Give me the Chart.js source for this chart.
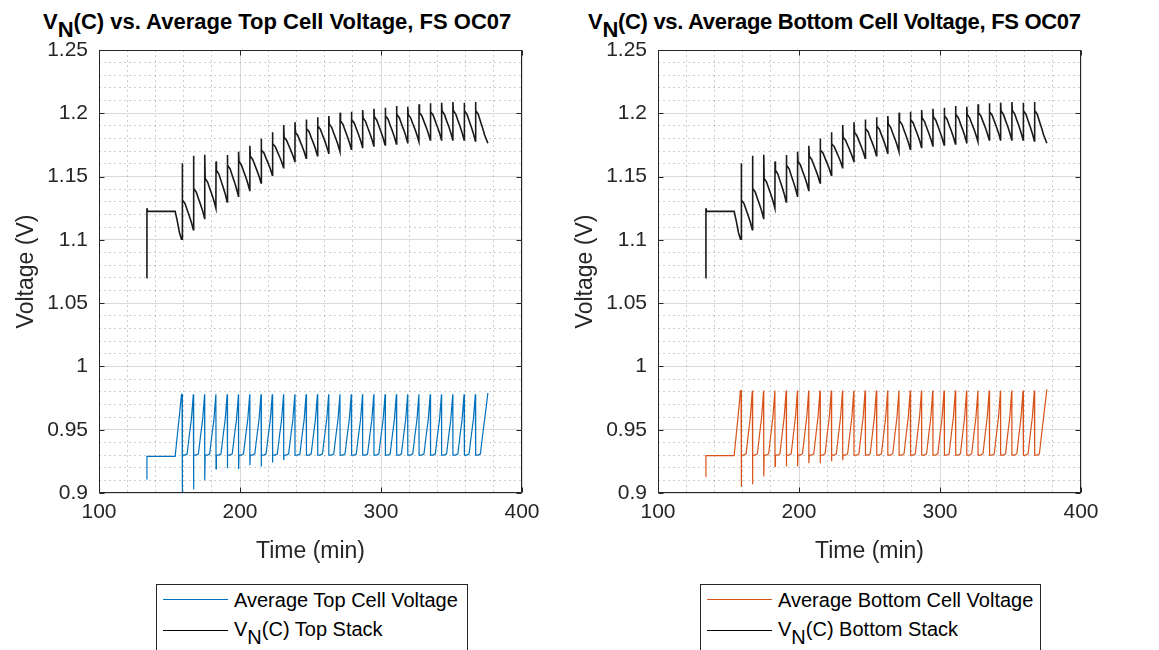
<!DOCTYPE html>
<html>
<head>
<meta charset="utf-8">
<script src="https://cdn.jsdelivr.net/npm/chart.js@4.4.1/dist/chart.umd.min.js"></script>
<style>
  html, body { margin: 0; padding: 0; background: #fff; }
  body { position: relative; width: 1159px; height: 650px; overflow: hidden;
         font-family: "Liberation Sans", Arial, Helvetica, sans-serif; color: #262626; }
  .title { position: absolute; top: 11px; font-size: 22px; line-height: 22px; font-weight: bold;
           color: #000; white-space: nowrap; }
  .sub { position: relative; top: 8px; }
  .panel { position: absolute; top: 0; width: 560px; height: 580px; }
  .legend { position: absolute; top: 584px; height: 80px; background: #fff;
            border: 1px solid #262626; box-sizing: border-box; }
  .legend .swatch { position: absolute; left: 6px; width: 65px; height: 0; border-top: 1px solid; }
  .legend .label { position: absolute; left: 77px; font-size: 20px; line-height: 20px;
                   color: #000; white-space: nowrap; }
</style>
</head>
<body>
<div class="title" style="left:43px">V<span class="sub">N</span>(C) vs. Average Top Cell Voltage, FS OC07</div>
<div class="title" style="left:588px;letter-spacing:-0.3px">V<span class="sub">N</span>(C) vs. Average Bottom Cell Voltage, FS OC07</div>

<div class="panel" style="left:0"><canvas id="chartTop" width="560" height="580"></canvas></div>
<div class="panel" style="left:559px"><canvas id="chartBottom" width="560" height="580"></canvas></div>

<div class="legend" style="left:156px;width:312px">
  <div class="swatch" style="top:14px;border-color:#0072BD"></div>
  <div class="label" style="top:5px">Average Top Cell Voltage</div>
  <div class="swatch" style="top:45px;border-color:#000"></div>
  <div class="label" style="top:34px">V<span class="sub">N</span>(C) Top Stack</div>
</div>
<div class="legend" style="left:700px;width:341px">
  <div class="swatch" style="top:14px;border-color:#D95319"></div>
  <div class="label" style="top:5px">Average Bottom Cell Voltage</div>
  <div class="swatch" style="top:45px;border-color:#000"></div>
  <div class="label" style="top:34px">V<span class="sub">N</span>(C) Bottom Stack</div>
</div>

<script>
// Elapsed test time (min); one row per 8-minute cycle after the initial hold
const timeMin = [
  133.8, 134.0, 134.4, 154.0, 155.5, 157.0, 158.5, 158.9,
  159, 159.3, 161, 162.5, 164, 165.5, 166.9,
  167, 167.3, 169, 170.5, 172, 173.5, 174.9,
  175, 175.3, 177, 178.5, 180, 181.5, 182.9,
  183, 183.3, 185, 186.5, 188, 189.5, 190.9,
  191, 191.3, 193, 194.5, 196, 197.5, 198.9,
  199, 199.3, 201, 202.5, 204, 205.5, 206.9,
  207, 207.3, 209, 210.5, 212, 213.5, 214.9,
  215, 215.3, 217, 218.5, 220, 221.5, 222.9,
  223, 223.3, 225, 226.5, 228, 229.5, 230.9,
  231, 231.3, 233, 234.5, 236, 237.5, 238.9,
  239, 239.3, 241, 242.5, 244, 245.5, 246.9,
  247, 247.3, 249, 250.5, 252, 253.5, 254.9,
  255, 255.3, 257, 258.5, 260, 261.5, 262.9,
  263, 263.3, 265, 266.5, 268, 269.5, 270.9,
  271, 271.3, 273, 274.5, 276, 277.5, 278.9,
  279, 279.3, 281, 282.5, 284, 285.5, 286.9,
  287, 287.3, 289, 290.5, 292, 293.5, 294.9,
  295, 295.3, 297, 298.5, 300, 301.5, 302.9,
  303, 303.3, 305, 306.5, 308, 309.5, 310.9,
  311, 311.3, 313, 314.5, 316, 317.5, 318.9,
  319, 319.3, 321, 322.5, 324, 325.5, 326.9,
  327, 327.3, 329, 330.5, 332, 333.5, 334.9,
  335, 335.3, 337, 338.5, 340, 341.5, 342.9,
  343, 343.3, 345, 346.5, 348, 349.5, 350.9,
  351, 351.3, 353, 354.5, 356, 357.5, 358.9,
  359, 359.3, 361, 362.5, 364, 365.5, 366.9,
  367, 367.3, 369, 370.5, 372, 373.5, 375.8
];

// Average top-stack cell voltage (V)
const cellTop = [
  0.911, 0.929, 0.929, 0.929, 0.945, 0.961, 0.978, 0.978,
  0.895, 0.930, 0.930, 0.931, 0.945, 0.958, 0.978,
  0.903, 0.930, 0.930, 0.931, 0.945, 0.958, 0.978,
  0.910, 0.930, 0.930, 0.931, 0.945, 0.958, 0.978,
  0.919, 0.930, 0.930, 0.931, 0.945, 0.958, 0.978,
  0.9195, 0.930, 0.930, 0.931, 0.945, 0.958, 0.978,
  0.919, 0.930, 0.930, 0.931, 0.945, 0.958, 0.978,
  0.922, 0.930, 0.930, 0.931, 0.945, 0.958, 0.978,
  0.921, 0.930, 0.930, 0.931, 0.945, 0.958, 0.978,
  0.924, 0.930, 0.930, 0.931, 0.945, 0.958, 0.978,
  0.926, 0.930, 0.930, 0.931, 0.945, 0.958, 0.978,
  0.930, 0.930, 0.930, 0.931, 0.945, 0.958, 0.978,
  0.930, 0.930, 0.930, 0.931, 0.945, 0.958, 0.978,
  0.930, 0.930, 0.930, 0.931, 0.945, 0.958, 0.978,
  0.930, 0.930, 0.930, 0.931, 0.945, 0.958, 0.978,
  0.930, 0.930, 0.930, 0.931, 0.945, 0.958, 0.978,
  0.930, 0.930, 0.930, 0.931, 0.945, 0.958, 0.978,
  0.930, 0.930, 0.930, 0.931, 0.945, 0.958, 0.978,
  0.930, 0.930, 0.930, 0.931, 0.945, 0.958, 0.978,
  0.930, 0.930, 0.930, 0.931, 0.945, 0.958, 0.978,
  0.930, 0.930, 0.930, 0.931, 0.945, 0.958, 0.978,
  0.930, 0.930, 0.930, 0.931, 0.945, 0.958, 0.978,
  0.930, 0.930, 0.930, 0.931, 0.945, 0.958, 0.978,
  0.930, 0.930, 0.930, 0.931, 0.945, 0.958, 0.978,
  0.930, 0.930, 0.930, 0.931, 0.945, 0.958, 0.978,
  0.930, 0.930, 0.930, 0.931, 0.945, 0.958, 0.978,
  0.930, 0.930, 0.930, 0.931, 0.945, 0.958, 0.978,
  0.930, 0.930, 0.930, 0.931, 0.945, 0.958, 0.979
];

// Average bottom-stack cell voltage (V)
const cellBottom = [
  0.913, 0.9295, 0.9295, 0.9295, 0.946, 0.963, 0.981, 0.981,
  0.905, 0.930, 0.930, 0.931, 0.946, 0.960, 0.981,
  0.907, 0.930, 0.930, 0.931, 0.946, 0.960, 0.981,
  0.913, 0.930, 0.930, 0.931, 0.946, 0.960, 0.981,
  0.921, 0.930, 0.930, 0.931, 0.946, 0.960, 0.981,
  0.921, 0.930, 0.930, 0.931, 0.946, 0.960, 0.981,
  0.921, 0.930, 0.930, 0.931, 0.946, 0.960, 0.981,
  0.9235, 0.930, 0.930, 0.931, 0.946, 0.960, 0.981,
  0.9235, 0.930, 0.930, 0.931, 0.946, 0.960, 0.981,
  0.925, 0.930, 0.930, 0.931, 0.946, 0.960, 0.981,
  0.926, 0.930, 0.930, 0.931, 0.946, 0.960, 0.981,
  0.930, 0.930, 0.930, 0.931, 0.946, 0.960, 0.981,
  0.930, 0.930, 0.930, 0.931, 0.946, 0.960, 0.981,
  0.930, 0.930, 0.930, 0.931, 0.946, 0.960, 0.981,
  0.930, 0.930, 0.930, 0.931, 0.946, 0.960, 0.981,
  0.930, 0.930, 0.930, 0.931, 0.946, 0.960, 0.981,
  0.930, 0.930, 0.930, 0.931, 0.946, 0.960, 0.981,
  0.930, 0.930, 0.930, 0.931, 0.946, 0.960, 0.981,
  0.930, 0.930, 0.930, 0.931, 0.946, 0.960, 0.981,
  0.930, 0.930, 0.930, 0.931, 0.946, 0.960, 0.981,
  0.930, 0.930, 0.930, 0.931, 0.946, 0.960, 0.981,
  0.930, 0.930, 0.930, 0.931, 0.946, 0.960, 0.981,
  0.930, 0.930, 0.930, 0.931, 0.946, 0.960, 0.981,
  0.930, 0.930, 0.930, 0.931, 0.946, 0.960, 0.981,
  0.930, 0.930, 0.930, 0.931, 0.946, 0.960, 0.981,
  0.930, 0.930, 0.930, 0.931, 0.946, 0.960, 0.981,
  0.930, 0.930, 0.930, 0.931, 0.946, 0.960, 0.981,
  0.930, 0.930, 0.930, 0.931, 0.946, 0.960, 0.982
];

// Nernst voltage V_N(C) (V), plotted against each stack's cell voltage
const vnStack = [
  1.070, 1.125, 1.1225, 1.1225, 1.115, 1.106, 1.1005, 1.1005,
  1.1605, 1.1315, 1.1287, 1.1237, 1.1190, 1.1139, 1.1080,
  1.1665, 1.1405, 1.1377, 1.1327, 1.1280, 1.1229, 1.1170,
  1.1673, 1.1485, 1.1457, 1.1407, 1.1360, 1.1309, 1.1250,
  1.1620, 1.1550, 1.1520, 1.1468, 1.1418, 1.1363, 1.1300,
  1.1670, 1.1590, 1.1561, 1.1509, 1.1460, 1.1406, 1.1345,
  1.1697, 1.1620, 1.1592, 1.1544, 1.1498, 1.1447, 1.1390,
  1.1744, 1.1660, 1.1635, 1.1591, 1.1549, 1.1502, 1.1450,
  1.1800, 1.1710, 1.1686, 1.1644, 1.1604, 1.1560, 1.1510,
  1.1850, 1.1760, 1.1737, 1.1697, 1.1659, 1.1617, 1.1570,
  1.1907, 1.1810, 1.1787, 1.1747, 1.1709, 1.1667, 1.1620,
  1.1930, 1.1850, 1.1825, 1.1782, 1.1741, 1.1696, 1.1645,
  1.1950, 1.1880, 1.1854, 1.1809, 1.1766, 1.1719, 1.1665,
  1.1968, 1.1900, 1.1874, 1.1829, 1.1786, 1.1738, 1.1684,
  1.1979, 1.1915, 1.1889, 1.1843, 1.1799, 1.1751, 1.1697,
  1.2005, 1.1940, 1.1913, 1.1866, 1.1821, 1.1772, 1.1716,
  1.2013, 1.1950, 1.1924, 1.1878, 1.1834, 1.1786, 1.1731,
  1.2026, 1.1962, 1.1936, 1.1889, 1.1845, 1.1797, 1.1742,
  1.2036, 1.1972, 1.1945, 1.1899, 1.1854, 1.1805, 1.1750,
  1.2044, 1.1980, 1.1953, 1.1906, 1.1862, 1.1813, 1.1757,
  1.2058, 1.1992, 1.1965, 1.1918, 1.1873, 1.1824, 1.1768,
  1.2052, 1.1990, 1.1964, 1.1919, 1.1877, 1.1829, 1.1776,
  1.2071, 1.2005, 1.1979, 1.1934, 1.1891, 1.1843, 1.1789,
  1.2079, 1.2012, 1.1985, 1.1938, 1.1894, 1.1845, 1.1789,
  1.2084, 1.2018, 1.1991, 1.1942, 1.1897, 1.1846, 1.1789,
  1.2089, 1.2022, 1.1994, 1.1945, 1.1899, 1.1847, 1.1789,
  1.2084, 1.2020, 1.1991, 1.1941, 1.1894, 1.1841, 1.1782,
  1.2089, 1.2022, 1.1991, 1.1937, 1.1885, 1.1828, 1.1763
];

// Labelled (major) tick values; minor grid every 20 min and 0.01 V
const xMajor = [100, 200, 300, 400];
const yMajor = [0.9, 0.95, 1, 1.05, 1.1, 1.15, 1.2, 1.25];

const FONT = '"Liberation Sans", Arial, Helvetica, sans-serif';
const AXIS_COLOR = '#262626';
Chart.defaults.font.family = FONT;

const isMajor = (list, v) => list.some(m => Math.abs(m - v) < 1e-6);
const gridColor = list => c => (c.tick && isMajor(list, c.tick.value)) ? 'rgba(38,38,38,0.17)' : 'rgba(38,38,38,0.22)';
const gridDash = list => c => (c.tick && isMajor(list, c.tick.value)) ? [] : [2, 3];

// Axes box with inward tick marks at the labelled values
const boxPlugin = {
  id: 'axesBox',
  afterDatasetsDraw(chart) {
    const { ctx, chartArea: a, scales: { x, y } } = chart;
    const L = Math.round(a.left) + 0.5, R = Math.round(a.right) - 0.5;
    const T = Math.round(a.top) + 0.5, B = Math.round(a.bottom) - 0.5;
    ctx.save();
    ctx.strokeStyle = AXIS_COLOR;
    ctx.lineWidth = 1;
    ctx.strokeRect(L, T, R - L, B - T);
    ctx.beginPath();
    x.ticks.filter(t => isMajor(xMajor, t.value)).forEach(t => {
      const px = Math.round(x.getPixelForValue(t.value)) + 0.5;
      ctx.moveTo(px, B); ctx.lineTo(px, B - 5);
      ctx.moveTo(px, T); ctx.lineTo(px, T + 5);
    });
    y.ticks.filter(t => isMajor(yMajor, t.value)).forEach(t => {
      const py = Math.round(y.getPixelForValue(t.value)) + 0.5;
      ctx.moveTo(L, py); ctx.lineTo(L + 5, py);
      ctx.moveTo(R, py); ctx.lineTo(R - 5, py);
    });
    ctx.stroke();
    ctx.restore();
  }
};

function makeChart(id, cellSeries, cellColor) {
  const cellPts = timeMin.map((t, i) => ({ x: t, y: cellSeries[i] }));
  const vnPts = timeMin.map((t, i) => ({ x: t, y: vnStack[i] }));
  return new Chart(document.getElementById(id), {
    type: 'line',
    data: {
      datasets: [
        { data: cellPts, borderColor: cellColor, borderWidth: 1.2, pointRadius: 0, tension: 0 },
        { data: vnPts, borderColor: '#1a1a1a', borderWidth: 1.6, pointRadius: 0, tension: 0 }
      ]
    },
    options: {
      responsive: false,
      animation: false,
      events: [],
      layout: { padding: { top: 50, right: 38, left: 0, bottom: 0 } },
      plugins: { legend: { display: false }, tooltip: { enabled: false }, title: { display: false } },
      scales: {
        x: {
          type: 'linear', min: 100, max: 400,
          afterFit: s => { s.height = 87; },
          ticks: {
            stepSize: 20, autoSkip: false, maxRotation: 0, minRotation: 0, padding: 7,
            color: AXIS_COLOR, font: { size: 21 },
            callback: v => isMajor(xMajor, v) ? String(v) : ''
          },
          grid: { drawTicks: false, lineWidth: 1, color: gridColor(xMajor) },
          border: { display: false, dash: gridDash(xMajor) },
          title: { display: true, text: 'Time (min)', color: AXIS_COLOR,
                   font: { size: 23 }, padding: { top: 0, bottom: 15 } }
        },
        y: {
          type: 'linear', min: 0.9, max: 1.25,
          afterFit: s => { s.width = 99; },
          ticks: {
            stepSize: 0.01, autoSkip: false, padding: 11,
            color: AXIS_COLOR, font: { size: 21 },
            callback: v => isMajor(yMajor, v) ? String(+v.toFixed(2)) : ''
          },
          grid: { drawTicks: false, lineWidth: 1, color: gridColor(yMajor) },
          border: { display: false, dash: gridDash(yMajor) },
          title: { display: true, text: 'Voltage (V)', color: AXIS_COLOR,
                   font: { size: 23 }, padding: { top: 13, bottom: 0 } }
        }
      }
    },
    plugins: [boxPlugin]
  });
}

makeChart('chartTop', cellTop, '#0072BD');
makeChart('chartBottom', cellBottom, '#D95319');
</script>
</body>
</html>
